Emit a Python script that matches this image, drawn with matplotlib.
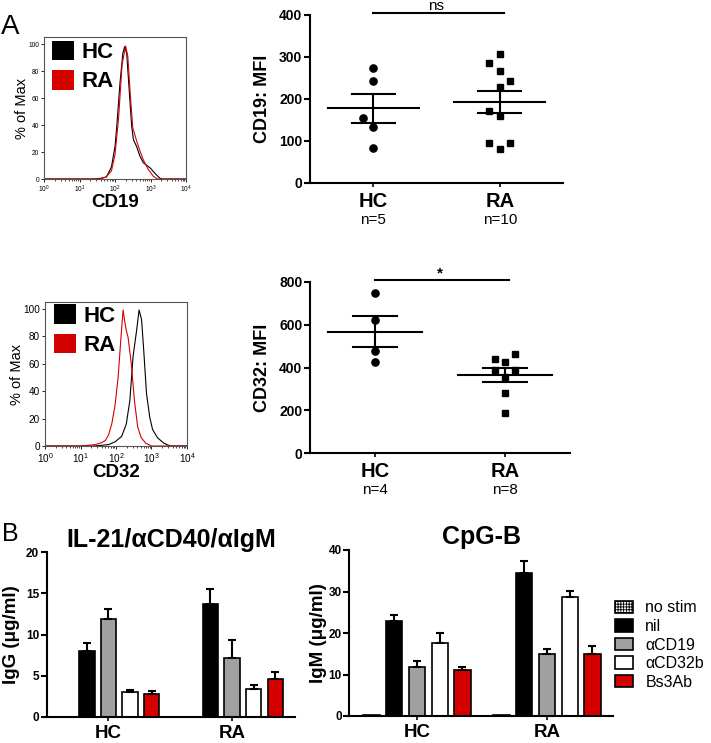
import numpy as np
import matplotlib
matplotlib.use("Agg")
import matplotlib.pyplot as plt
from matplotlib.patches import Patch
from matplotlib.ticker import LogLocator, NullFormatter

plt.rcParams['font.family'] = ['Liberation Sans', 'DejaVu Sans']
plt.rcParams['mathtext.default'] = 'regular'
plt.rcParams['hatch.linewidth'] = 0.6

RED = '#d40000'
GRAY = '#a0a0a0'

# --- Histograms (x as log10 of fluorescence, y as % of max) ---
cd19_hc_logx = [0, 1.4, 1.6, 1.76, 1.9, 2.0, 2.05, 2.14, 2.22, 2.27, 2.33, 2.42, 2.47,
                2.52, 2.61, 2.7, 2.8, 3.0, 3.13, 3.27, 3.35, 4]
cd19_hc_pct = [0, 0, 0.5, 1.5, 9, 24, 39, 71, 93, 98, 93, 58, 39,
               29, 24, 17, 12, 8, 4, 0.5, 0, 0]
cd19_ra_logx = [0, 1.55, 1.75, 1.9, 2.0, 2.1, 2.2, 2.3, 2.36, 2.43, 2.5, 2.6, 2.7,
                2.8, 2.94, 3.08, 3.2, 4]
cd19_ra_pct = [0, 0, 1.5, 6, 18, 45, 85, 98.5, 91, 63, 38, 29, 21,
               14, 7, 2, 0, 0]

cd32_hc_logx = [0, 1.4, 1.79, 1.97, 2.16, 2.29, 2.39, 2.48, 2.58, 2.65, 2.72, 2.78,
                2.86, 2.95, 3.03, 3.17, 3.35, 3.53, 4]
cd32_hc_pct = [0, 0, 1, 3, 7, 16, 33, 65, 84, 99, 92, 70,
               38, 21, 12, 6, 2, 0, 0]
cd32_ra_logx = [0, 1.0, 1.2, 1.42, 1.6, 1.7, 1.79, 1.88, 1.97, 2.06, 2.14, 2.2, 2.25,
                2.29, 2.34, 2.43, 2.52, 2.61, 2.71, 2.84, 3.0, 4]
cd32_ra_pct = [0, 0, 0.5, 1, 2.5, 4, 8, 16, 29, 50, 79, 99, 90,
               84, 79, 60, 33, 14, 6, 2, 0, 0]

# --- MFI scatter ---
cd19_hc = [273, 243, 155, 134, 83]
cd19_hc_dx = [0, 0, -0.08, 0, 0]
cd19_ra = [307, 285, 267, 243, 229, 171, 160, 96, 96, 81]
cd19_ra_dx = [0, -0.085, 0, 0.08, 0, -0.085, 0, -0.085, 0.08, 0]
cd32_hc = [746, 621, 478, 424]
cd32_hc_dx = [0, 0, 0, 0]
cd32_ra = [440, 461, 424, 388, 388, 354, 283, 189]
cd32_ra_dx = [-0.08, 0.08, 0, -0.08, 0.08, 0, 0, 0]

# --- Ig secretion bars ---
groups = ['HC', 'RA']
conditions = ['no stim', 'nil', 'αCD19', 'αCD32b', 'Bs3Ab']
igg_mean = {'HC': [0, 7.99, 11.9, 2.96, 2.76], 'RA': [0, 13.67, 7.1, 3.33, 4.62]}
igg_sem = {'HC': [0, 1.0, 1.2, 0.3, 0.4], 'RA': [0, 1.9, 2.2, 0.57, 0.8]}
igm_mean = {'HC': [0.24, 22.9, 11.7, 17.5, 11.2], 'RA': [0.16, 34.4, 14.9, 28.7, 14.9]}
igm_sem = {'HC': [0, 1.4, 1.55, 2.4, 0.55], 'RA': [0, 3.0, 1.2, 1.5, 1.85]}

W, H = 711, 743
fig = plt.figure(figsize=(W / 100, H / 100), dpi=100)


def px_axes(x0, y0, x1, y1):
    return fig.add_axes([x0 / W, 1 - y1 / H, (x1 - x0) / W, (y1 - y0) / H])


def draw_hist(ax, hc, ra, xlabel, tick_fs, ylim_top, ylab_x, xlab_y, leg_anchor):
    ax.plot(10 ** np.array(hc[0]), hc[1], color='black', lw=0.8)
    ax.plot(10 ** np.array(ra[0]), ra[1], color=RED, lw=0.8)
    ax.set_xscale('log')
    ax.set_xlim(1, 1e4)
    ax.set_ylim(0, ylim_top)
    ax.xaxis.set_major_locator(LogLocator(base=10, numticks=10))
    ax.xaxis.set_minor_locator(LogLocator(base=10, subs=np.arange(2, 10), numticks=10))
    ax.xaxis.set_minor_formatter(NullFormatter())
    ax.set_yticks(range(0, 101, 20))
    ax.tick_params(labelsize=tick_fs, length=2, width=0.6, pad=1.5)
    ax.tick_params(which='minor', length=1.2, width=0.5)
    for s in ax.spines.values():
        s.set_color('#555555')
        s.set_linewidth(0.8)
    ax.set_ylabel('% of Max', fontsize=10.5, va='center')
    ax.yaxis.set_label_coords(ylab_x, 0.5)
    ax.set_xlabel(xlabel, fontsize=13.5, fontweight='bold', va='center')
    ax.xaxis.set_label_coords(0.5, xlab_y)
    handles = [Patch(facecolor='black', edgecolor='none', label='HC'),
               Patch(facecolor=RED, edgecolor='none', label='RA')]
    ax.legend(handles=handles, loc='upper left', bbox_to_anchor=leg_anchor,
              frameon=False, prop={'size': 16, 'weight': 'bold'},
              handlelength=1.0, handleheight=1.0, handletextpad=0.35,
              labelspacing=0.3, borderpad=0, borderaxespad=0)


def draw_scatter(ax, hc, hc_dx, ra, ra_dx, ymax, ystep, ylabel, ylab_x,
                 sig_text, sig_y, sig_text_y):
    ax.plot(np.array(hc_dx), hc, 'o', color='black', ms=5.2, clip_on=False)
    ax.plot(1 + np.array(ra_dx), ra, 's', color='black', ms=5, clip_on=False)
    for i, vals in enumerate([hc, ra]):
        m = np.mean(vals)
        sem = np.std(vals, ddof=1) / np.sqrt(len(vals))
        ax.plot([i - 0.36, i + 0.36], [m, m], color='black', lw=1.5)
        ax.plot([i - 0.17, i + 0.17], [m + sem, m + sem], color='black', lw=1.5)
        ax.plot([i - 0.17, i + 0.17], [m - sem, m - sem], color='black', lw=1.5)
        ax.plot([i, i], [m - sem, m + sem], color='black', lw=1.5)
        ax.annotate(f'n={len(vals)}', xy=(i, 0), xycoords=('data', 'axes fraction'),
                    xytext=(0, -36.5 * 0.72), textcoords='offset points',
                    ha='center', va='center', fontsize=11)
    ax.plot([0, 1.03], [sig_y, sig_y], color='black', lw=1.5, clip_on=False)
    ax.text(0.5, sig_text_y, sig_text, ha='center', va='center', fontsize=11,
            fontweight='bold' if sig_text == '*' else 'normal')
    ax.set_xlim(-0.5, 1.5)
    ax.set_ylim(0, ymax)
    ax.set_yticks(np.arange(0, ymax + 1, ystep))
    ax.set_xticks([0, 1], groups)
    for s in ['top', 'right']:
        ax.spines[s].set_visible(False)
    for s in ['left', 'bottom']:
        ax.spines[s].set_linewidth(1.5)
    ax.tick_params(axis='y', labelsize=10, width=1.5, length=4, pad=1.5)
    ax.tick_params(axis='x', labelsize=14.5, width=1.2, length=3, pad=3.5)
    for lab in ax.get_xticklabels() + ax.get_yticklabels():
        lab.set_fontweight('bold')
    ax.set_ylabel(ylabel, fontsize=13, fontweight='bold', va='center')
    ax.yaxis.set_label_coords(ylab_x, 0.5)


def draw_bars(ax, means, sems, ymax, ystep, ylabel, title, ylab_x, xlim_left):
    colors = ['white', 'black', GRAY, 'white', RED]
    hatches = ['++++++', None, None, None, None]
    x = np.arange(len(groups))
    offsets = (np.arange(len(conditions)) - 2) * 0.175
    bars = []
    for i, cond in enumerate(conditions):
        vals = np.array([means[g][i] for g in groups])
        errs = np.array([sems[g][i] for g in groups])
        b = ax.bar(x + offsets[i], vals, width=0.125, color=colors[i],
                   edgecolor='black', linewidth=1.2, hatch=hatches[i], label=cond)
        bars.append(b)
        mask = errs > 0
        if mask.any():
            ax.errorbar((x + offsets[i])[mask], vals[mask],
                        yerr=[np.zeros(mask.sum()), errs[mask]], fmt='none',
                        ecolor='black', elinewidth=1.5, capsize=3.2, capthick=1.5)
    ax.set_xlim(xlim_left, 1.51)
    ax.set_ylim(0, ymax)
    ax.set_yticks(np.arange(0, ymax + 1, ystep))
    ax.set_xticks(x, groups)
    for s in ['top', 'right']:
        ax.spines[s].set_visible(False)
    for s in ['left', 'bottom']:
        ax.spines[s].set_linewidth(1.5)
    ax.tick_params(axis='y', labelsize=8.5, width=1.5, length=4, pad=1.5)
    ax.tick_params(axis='x', labelsize=13.5, width=1.2, length=3, pad=3)
    for lab in ax.get_xticklabels() + ax.get_yticklabels():
        lab.set_fontweight('bold')
    ax.set_ylabel(ylabel, fontsize=13.5, fontweight='bold', va='center')
    ax.yaxis.set_label_coords(ylab_x, 0.5)
    ax.set_title(title, fontsize=18, fontweight='bold', pad=4)
    return bars


# Panel A
ax_h1 = px_axes(44, 37, 186, 179)
draw_hist(ax_h1, (cd19_hc_logx, cd19_hc_pct), (cd19_ra_logx, cd19_ra_pct), 'CD19',
          4.8, 105.2, -0.156, -0.168, (0.056, 0.975))
ax_h2 = px_axes(45, 302, 187, 446)
draw_hist(ax_h2, (cd32_hc_logx, cd32_hc_pct), (cd32_ra_logx, cd32_ra_pct), 'CD32',
          7.2, 104.8, -0.2, -0.185, (0.0625, 0.984))

ax_s1 = px_axes(310, 15, 563, 183)
draw_scatter(ax_s1, cd19_hc, cd19_hc_dx, cd19_ra, cd19_ra_dx, 400, 100, 'CD19: MFI',
             -0.186, 'ns', 405, 421)
ax_s2 = px_axes(310, 281.7, 570, 453.3)
draw_scatter(ax_s2, cd32_hc, cd32_hc_dx, cd32_ra, cd32_ra_dx, 800, 200, 'CD32: MFI',
             -0.181, '*', 808, 838)

# Panel B
ax_b1 = px_axes(46.7, 552.3, 295, 716.7)
draw_bars(ax_b1, igg_mean, igg_sem, 20, 5, 'IgG (μg/ml)', 'IL-21/αCD40/αIgM', -0.141, -0.5)
ax_b2 = px_axes(349.3, 550, 613.3, 716)
bars = draw_bars(ax_b2, igm_mean, igm_sem, 40, 10, 'IgM (μg/ml)', 'CpG-B', -0.118, -0.52)

fig.legend(handles=bars, labels=conditions, loc='center left',
           bbox_to_anchor=(615 / W, 1 - 645 / H), frameon=False, fontsize=11.5,
           handlelength=1.15, handleheight=0.8, handletextpad=0.75,
           labelspacing=0.22, borderpad=0, borderaxespad=0)

fig.text(10 / W, 1 - 27 / H, 'A', fontsize=20, ha='center', va='center')
fig.text(10 / W, 1 - 534 / H, 'B', fontsize=18, ha='center', va='center')

fig.savefig('out.png', dpi=100)
